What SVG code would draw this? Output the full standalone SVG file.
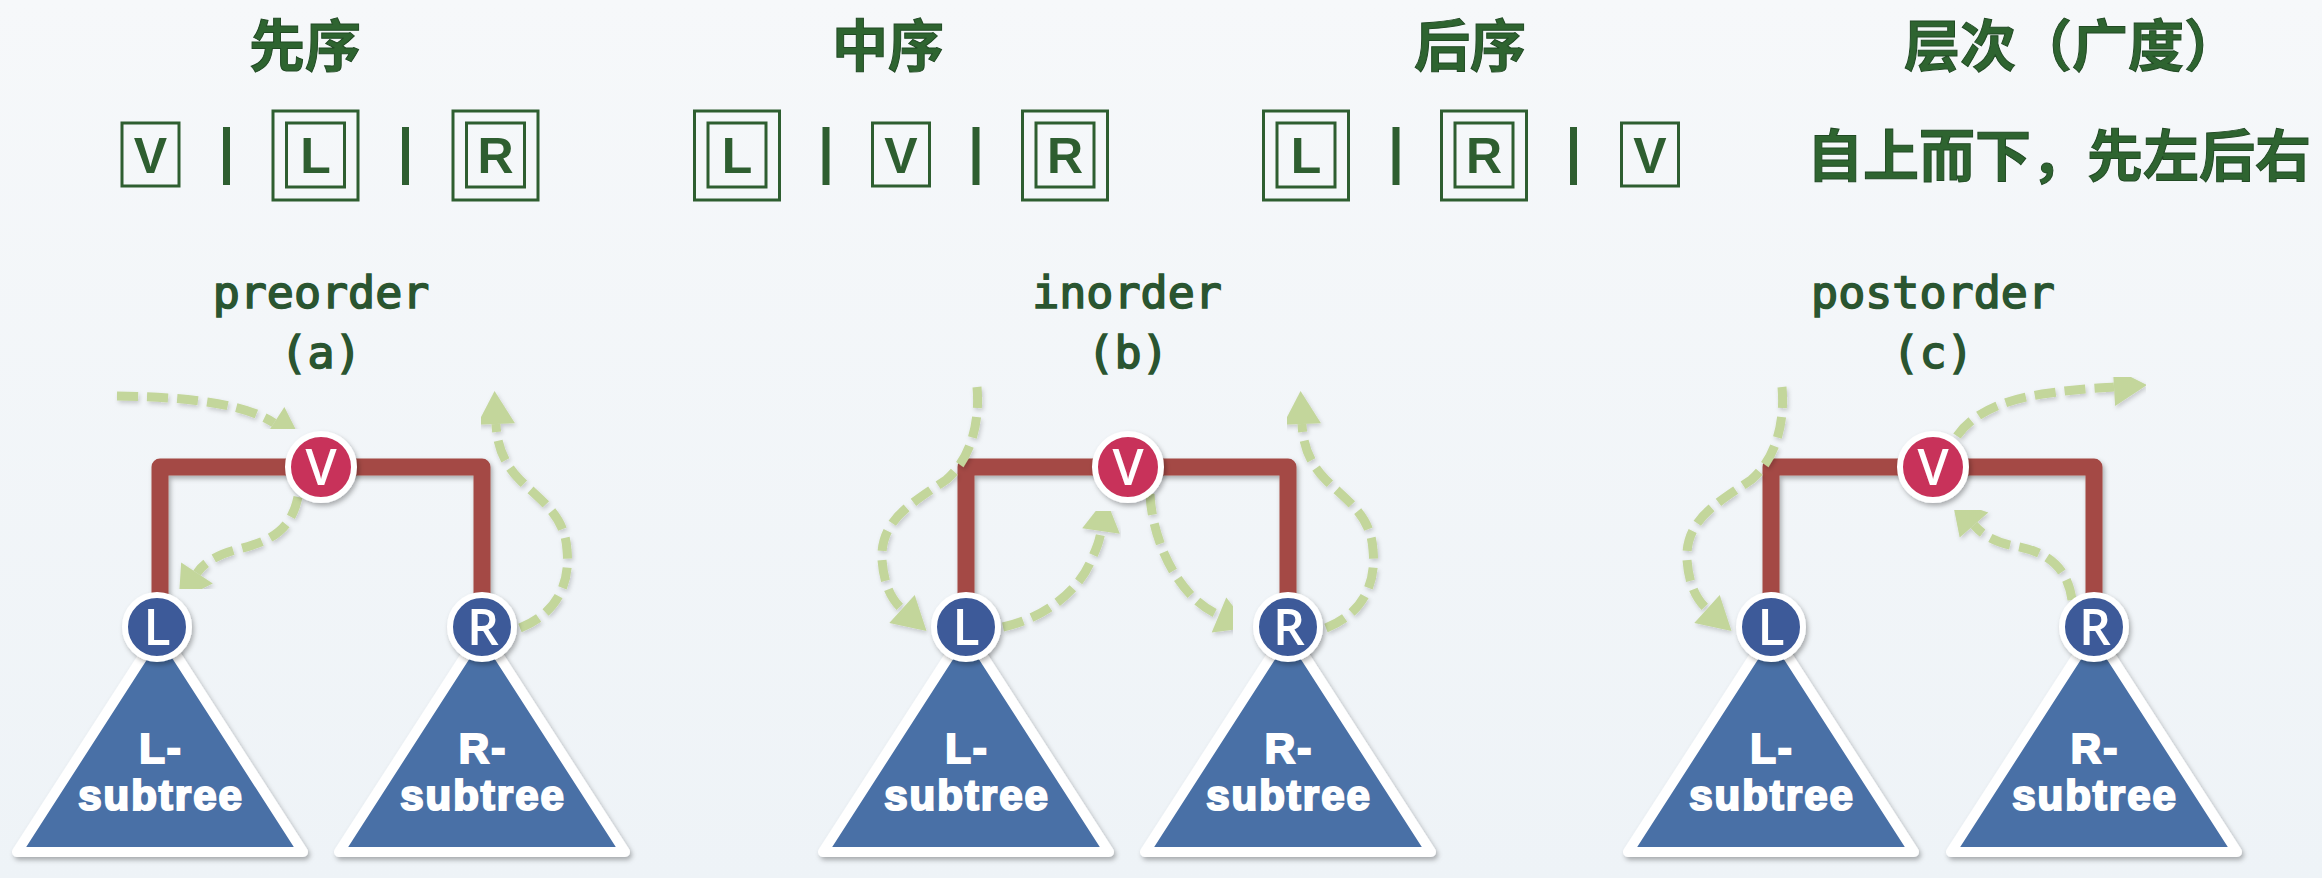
<svg xmlns="http://www.w3.org/2000/svg" width="2322" height="878" viewBox="0 0 2322 878">
<defs>
  <linearGradient id="bg" x1="0" y1="0" x2="0" y2="1">
    <stop offset="0" stop-color="#f6f8fa"/>
    <stop offset="1" stop-color="#eef3f7"/>
  </linearGradient>
  <filter id="sh" x="-20%" y="-20%" width="140%" height="140%">
    <feDropShadow dx="2" dy="3" stdDeviation="2.5" flood-color="#000" flood-opacity="0.3"/>
  </filter>
  <filter id="shl" x="-20%" y="-20%" width="140%" height="140%">
    <feDropShadow dx="1.5" dy="2.5" stdDeviation="2" flood-color="#000" flood-opacity="0.18"/>
  </filter>
  <marker id="ah" viewBox="-1 -20 35 40" markerWidth="35" markerHeight="40" refX="0" refY="0" orient="auto" markerUnits="userSpaceOnUse">
    <path d="M0,-19 L33,0 L0,19 Z" fill="#c3d69b"/>
  </marker>
  <style>
    .cjk{font-family:"Noto Sans CJK SC","Noto Sans CJK JP",sans-serif;font-weight:700;font-size:56px;fill:#2e6430;stroke:#214a24;stroke-width:1}
    .box{fill:none;stroke:#2e5e30;stroke-width:3}
    .bar{fill:#2e5e30}
    .bl{font-family:"Liberation Sans",Arial,sans-serif;font-weight:700;font-size:50px;fill:#2e5e30;text-anchor:middle}
    .mono{font-family:"DejaVu Sans Mono","Liberation Mono",monospace;font-weight:400;font-size:45px;fill:#2a5530;stroke:#2a5530;stroke-width:1.6;text-anchor:middle}
    .edge{fill:none;stroke:#a44a44;stroke-width:17;stroke-linejoin:round;filter:url(#sh)}
    .dash{fill:none;stroke:#c3d69b;stroke-width:9;stroke-dasharray:21 9;marker-end:url(#ah);filter:url(#shl)}
    .tri{fill:#4a70a6;stroke:#ffffff;stroke-width:10;stroke-linejoin:round;filter:url(#sh)}
    .tt{font-family:"Liberation Sans",Arial,sans-serif;font-weight:700;font-size:42px;fill:#ffffff;stroke:#ffffff;stroke-width:2.2;text-anchor:middle;letter-spacing:2px}
    .cv{fill:#c8325a;stroke:#ffffff;stroke-width:6;filter:url(#sh)}
    .cn{fill:#3e5a99;stroke:#ffffff;stroke-width:6;filter:url(#sh)}
    .cl{font-family:"Open Sans","Noto Sans",sans-serif;font-weight:600;font-size:50px;fill:#ffffff;text-anchor:middle}
  </style>
</defs>
<rect width="2322" height="878" fill="url(#bg)"/>

<!-- Titles -->
<g id="title-pre"><text class="cjk" x="305" y="66" text-anchor="middle">先序</text></g>
<g id="title-in"><text class="cjk" x="888" y="66" text-anchor="middle">中序</text></g>
<g id="title-post"><text class="cjk" x="1470" y="66" text-anchor="middle">后序</text></g>
<g id="title-level"><text class="cjk" x="1904" y="66">层次（广度）</text></g>
<g id="level-desc"><text class="cjk" x="1807" y="176">自上而下，先左后右</text></g>

<!-- Row 2: preorder V | L | R -->
<g id="seq-pre">
  <rect class="box" x="122" y="123" width="57" height="63"/><text class="bl" x="150.5" y="173">V</text>
  <rect class="bar" x="223" y="127" width="7" height="58"/>
  <rect class="box" x="273" y="111" width="85" height="89"/><rect class="box" x="286.5" y="123" width="58" height="64"/><text class="bl" x="315.5" y="173">L</text>
  <rect class="bar" x="402" y="127" width="7" height="58"/>
  <rect class="box" x="453" y="111" width="85" height="89"/><rect class="box" x="466.5" y="123" width="58" height="64"/><text class="bl" x="495.5" y="173">R</text>
</g>
<!-- Row 2: inorder L | V | R -->
<g id="seq-in">
  <rect class="box" x="694.5" y="111" width="85" height="89"/><rect class="box" x="708" y="123" width="58" height="64"/><text class="bl" x="737" y="173">L</text>
  <rect class="bar" x="822.5" y="127" width="7" height="58"/>
  <rect class="box" x="872.5" y="123" width="57" height="63"/><text class="bl" x="901" y="173">V</text>
  <rect class="bar" x="972.5" y="127" width="7" height="58"/>
  <rect class="box" x="1022.5" y="111" width="85" height="89"/><rect class="box" x="1036" y="123" width="58" height="64"/><text class="bl" x="1065" y="173">R</text>
</g>
<!-- Row 2: postorder L | R | V -->
<g id="seq-post">
  <rect class="box" x="1263.5" y="111" width="85" height="89"/><rect class="box" x="1277" y="123" width="58" height="64"/><text class="bl" x="1306" y="173">L</text>
  <rect class="bar" x="1392.5" y="127" width="7" height="58"/>
  <rect class="box" x="1441.5" y="111" width="85" height="89"/><rect class="box" x="1455" y="123" width="58" height="64"/><text class="bl" x="1484" y="173">R</text>
  <rect class="bar" x="1570" y="127" width="7" height="58"/>
  <rect class="box" x="1621.5" y="123" width="57" height="63"/><text class="bl" x="1650" y="173">V</text>
</g>

<!-- Labels -->
<g id="label-a"><text class="mono" x="321" y="308">preorder</text><text class="mono" x="321" y="368">(a)</text></g>
<g id="label-b"><text class="mono" x="1127" y="308">inorder</text><text class="mono" x="1128" y="368">(b)</text></g>
<g id="label-c"><text class="mono" x="1933" y="308">postorder</text><text class="mono" x="1933" y="368">(c)</text></g>

<!-- Subtrees -->
<g id="a-Lsub"><path class="tri" d="M160,630 L17,852 L303,852 Z"/><text class="tt" x="161" y="763">L-</text><text class="tt" x="161" y="810">subtree</text></g>
<g id="a-Rsub"><path class="tri" d="M482,630 L339,852 L625,852 Z"/><text class="tt" x="483" y="763">R-</text><text class="tt" x="483" y="810">subtree</text></g>
<g id="b-Lsub"><path class="tri" d="M966,630 L823,852 L1109,852 Z"/><text class="tt" x="967" y="763">L-</text><text class="tt" x="967" y="810">subtree</text></g>
<g id="b-Rsub"><path class="tri" d="M1288,630 L1145,852 L1431,852 Z"/><text class="tt" x="1289" y="763">R-</text><text class="tt" x="1289" y="810">subtree</text></g>
<g id="c-Lsub"><path class="tri" d="M1771,630 L1628,852 L1914,852 Z"/><text class="tt" x="1772" y="763">L-</text><text class="tt" x="1772" y="810">subtree</text></g>
<g id="c-Rsub"><path class="tri" d="M2094,630 L1951,852 L2237,852 Z"/><text class="tt" x="2095" y="763">R-</text><text class="tt" x="2095" y="810">subtree</text></g>

<!-- Connectors -->
<g id="connectors">
  <path class="edge" d="M321,386 V467"/>
  <path class="edge" d="M160,612 V467 H482 V612"/>
  <path class="edge" d="M1128,386 V467"/>
  <path class="edge" d="M966,612 V467 H1288 V612"/>
  <path class="edge" d="M1933,386 V467"/>
  <path class="edge" d="M1771,612 V467 H2094 V612"/>

  <path class="dash" d="M117,396 C200,397 248,406 274,423"/>
  <path class="dash" d="M298,497 C290,535 265,542 235,550 C214,556 203,564 197,573"/>
  <path class="dash" d="M197,628 H414"/>
  <path class="dash" d="M520,628 C560,612 570,580 567,550 C565,515 540,500 520,480 C505,465 497,447 496,424"/>

  <path class="dash" d="M977,387 C980,420 972,458 946,480 C908,505 880,522 882,560 C884,586 892,600 902,609"/>
  <path class="dash" d="M1003,627 C1045,618 1080,590 1092,558 C1098,546 1100,538 1101,531"/>
  <path class="dash" d="M1150,494 C1152,540 1178,598 1219,615"/>
  <path class="dash" d="M1326,628 C1366,612 1376,580 1373,550 C1371,515 1346,500 1326,480 C1311,465 1303,447 1302,424"/>

  <path class="dash" d="M1782,387 C1785,420 1777,458 1751,480 C1713,505 1685,522 1687,560 C1689,586 1697,600 1707,609"/>
  <path class="dash" d="M1808,628 H2026"/>
  <path class="dash" d="M2072,600 C2068,570 2050,552 2015,546 C1992,542 1981,533 1974,525"/>
  <path class="dash" d="M1957,436 C1975,410 2010,398 2050,393 C2078,389 2097,388 2114,387"/>
</g>

<!-- Tree nodes -->
<g id="a-V"><circle class="cv" cx="321" cy="467" r="33"/><text class="cl" x="321" y="485">V</text></g>
<g id="a-L"><circle class="cn" cx="157" cy="627" r="32"/><text class="cl" x="157" y="645">L</text></g>
<g id="a-R"><circle class="cn" cx="482" cy="627" r="32"/><text class="cl" x="483" y="645">R</text></g>
<g id="b-V"><circle class="cv" cx="1128" cy="467" r="33"/><text class="cl" x="1128" y="485">V</text></g>
<g id="b-L"><circle class="cn" cx="966" cy="627" r="32"/><text class="cl" x="966" y="645">L</text></g>
<g id="b-R"><circle class="cn" cx="1288" cy="627" r="32"/><text class="cl" x="1289" y="645">R</text></g>
<g id="c-V"><circle class="cv" cx="1933" cy="467" r="33"/><text class="cl" x="1933" y="485">V</text></g>
<g id="c-L"><circle class="cn" cx="1771" cy="627" r="32"/><text class="cl" x="1771" y="645">L</text></g>
<g id="c-R"><circle class="cn" cx="2094" cy="627" r="32"/><text class="cl" x="2095" y="645">R</text></g>
</svg>
